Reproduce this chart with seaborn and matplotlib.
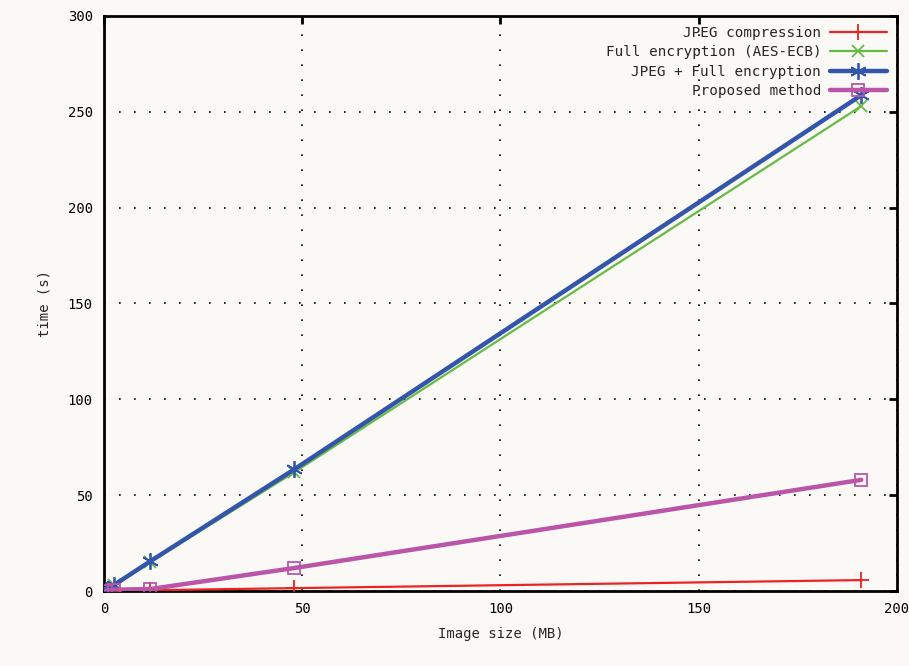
import pandas as pd
import seaborn as sns
import matplotlib.pyplot as plt

# Values
image_size = [0.5, 2.5, 11.6, 48, 191]
jpeg_time = [0.02, 0.1, 0.4, 1.5, 5.7]
full_enc_time = [0.6, 3.0, 15.0, 62, 253]
jpeg_full_time = [0.6, 3.1, 15.4, 63.5, 258.7]
proposed_time = [0.15, 0.7, 1.0, 12, 58]

series_names = ["JPEG compression", "Full encryption (AES-ECB)",
                "JPEG + Full encryption", "Proposed method"]
series_values = [jpeg_time, full_enc_time, jpeg_full_time, proposed_time]

rows = []
for name, vals in zip(series_names, series_values):
    for x, y in zip(image_size, vals):
        rows.append({"Image size (MB)": x, "time (s)": y, "method": name})
data = pd.DataFrame(rows)

sns.set_style("white")
plt.rcParams['font.family'] = ['DejaVu Sans Mono']

bg = "#fbf9f6"
fig = plt.figure(figsize=(9.09, 6.66), dpi=100, facecolor=bg)
ax = fig.add_axes([0.1144, 0.1126, 0.8724, 0.8634], facecolor=bg)

styles = {
    "JPEG compression": dict(color="#ee2222", marker="+", lw=1.6, ms=11, mew=1.3),
    "Full encryption (AES-ECB)": dict(color="#66bb44", marker="x", lw=1.6, ms=9, mew=1.3),
    "JPEG + Full encryption": dict(color="#3355aa", marker=(6, 2, 0), lw=3.2, ms=12, mew=1.3),
    "Proposed method": dict(color="#bb55aa", marker="s", lw=3.2, ms=9, mew=1.3),
}

for name in series_names:
    st = styles[name]
    sns.lineplot(data=data[data["method"] == name], x="Image size (MB)", y="time (s)",
                 ax=ax, color=st["color"], linewidth=st["lw"], marker=st["marker"],
                 markersize=st["ms"], markeredgewidth=st["mew"],
                 markeredgecolor=st["color"], markerfacecolor="none",
                 label=name, zorder=3)

ax.set_xlim(0, 200)
ax.set_ylim(0, 300)
ax.set_xticks([0, 50, 100, 150, 200])
ax.set_yticks([0, 50, 100, 150, 200, 250, 300])
ax.grid(True, color="black", linestyle=(0, (1, 8)), linewidth=1.2)
ax.tick_params(direction="in", length=6, width=2, top=True, right=True,
               labelsize=10, colors="black", pad=8)
for s in ax.spines.values():
    s.set_color("black")
    s.set_linewidth(2)

ax.set_xlabel("Image size (MB)", fontsize=10, labelpad=8)
ax.set_ylabel("time (s)", fontsize=10, labelpad=12)

leg = ax.legend(loc="upper right", frameon=False, markerfirst=False,
                fontsize=10.3, handlelength=4.0, labelspacing=0.38,
                borderaxespad=0.3, handletextpad=0.6)

plt.savefig("out.png", dpi=100, facecolor=bg)
